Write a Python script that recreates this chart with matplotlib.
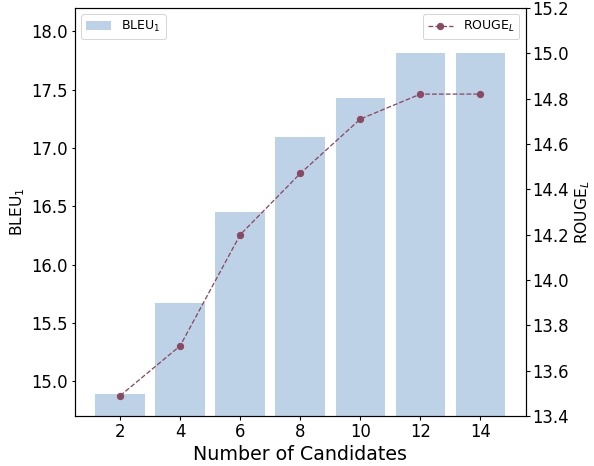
import matplotlib
matplotlib.use("Agg")
import matplotlib.pyplot as plt

candidates = [2, 4, 6, 8, 10, 12, 14]
bleu1 = [14.89, 15.67, 16.45, 17.09, 17.43, 17.81, 17.81]
rouge_l = [13.49, 13.71, 14.20, 14.47, 14.71, 14.82, 14.82]

plt.rcParams['axes.linewidth'] = 1.1

fig, ax = plt.subplots(figsize=(594 / 72, 466 / 72), dpi=72)
fig.subplots_adjust(left=0.126, right=0.885, top=0.983, bottom=0.107)

ax.bar(candidates, bleu1, width=1.65, color='#bed2e7', label='BLEU$_1$')
ax.set_ylim(14.7, 18.2)
ax.set_xticks(candidates)
ax.set_xlabel('Number of Candidates', fontsize=19)
ax.set_ylabel('BLEU$_1$', fontsize=15.5)
ax.tick_params(axis='both', labelsize=16.5, width=1.1)
ax.legend(loc='upper left', fontsize=12.5)

ax2 = ax.twinx()
ax2.plot(candidates, rouge_l, linestyle='--', marker='o', markersize=6.3,
         linewidth=1.3, color='#8a4963', label='ROUGE$_L$')
ax2.set_ylim(13.4, 15.2)
ax2.set_ylabel('ROUGE$_L$', fontsize=15.5)
ax2.tick_params(axis='y', labelsize=16.5, width=1.1)
ax2.legend(loc='upper right', fontsize=12.5)

fig.savefig('out.png', dpi=72)
